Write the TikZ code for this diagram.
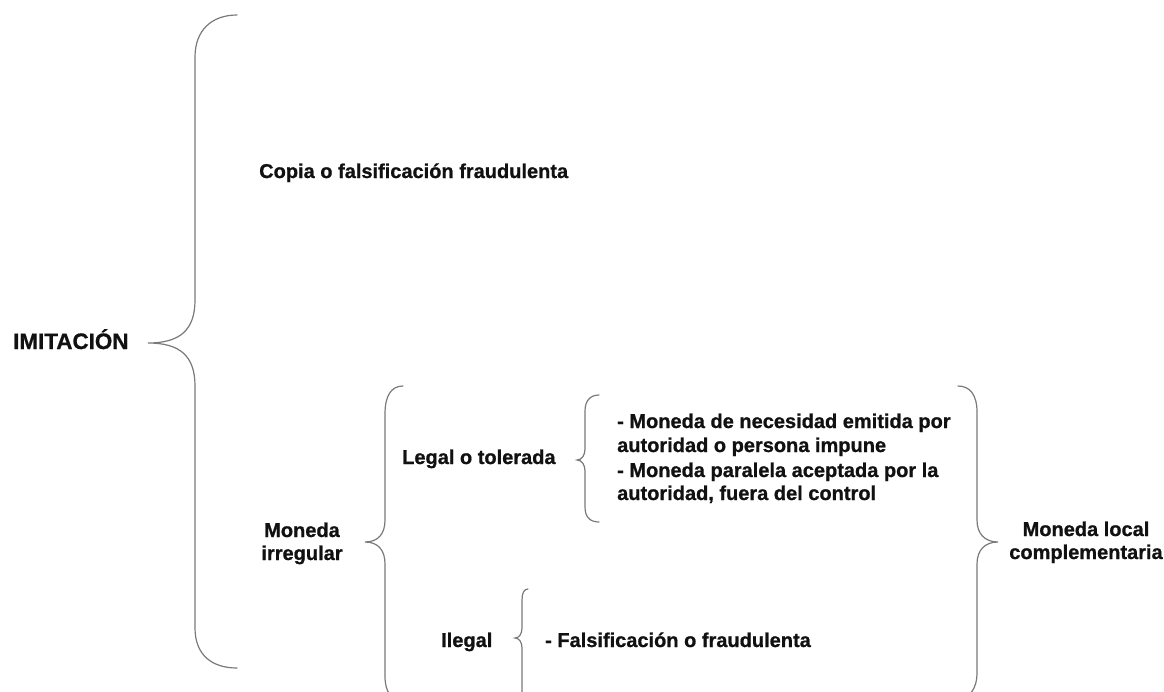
\documentclass[tikz,border=0pt]{standalone}
\usepackage{fontspec}
\setmainfont{Liberation Sans}[BoldFeatures={FakeBold=0.8}]
\definecolor{bracegray}{HTML}{7A7A7A}
\definecolor{txt}{HTML}{111111}
\begin{document}
\begin{tikzpicture}[x=1pt,y=-1pt,
  lbl/.style={font=\bfseries\fontsize{20}{23}\selectfont, inner sep=0pt, anchor=base west, text=txt},
  bigl/.style={font=\bfseries\fontsize{22.4}{26}\selectfont, inner sep=0pt, anchor=base west, text=txt},
  brace/.style={draw=bracegray, line width=1.2pt, line cap=round}]
\useasboundingbox[fill=white] (0,0) rectangle (1164,691);

% big brace
\draw[brace] (237,15) .. controls (212,15) and (195,30) .. (195,57) -- (195,300)
  .. controls (195,330) and (180,343) .. (148,343)
  .. controls (180,343) and (195,356) .. (195,386) -- (195,628)
  .. controls (195,655) and (212,668) .. (237,668);

% moneda irregular brace
\draw[brace] (403,386) .. controls (391,386) and (385,396) .. (385,414) -- (385,520)
  .. controls (385,534) and (378,542) .. (365,542)
  .. controls (378,542) and (385,550) .. (385,564) -- (385,676)
  .. controls (385,692) and (391,700) .. (403,700);

% legal brace
\draw[brace] (599,395) .. controls (590,395) and (585,401) .. (585,411) -- (585,449)
  .. controls (585,455) and (582,460) .. (577,460)
  .. controls (582,460) and (585,465) .. (585,471) -- (585,507)
  .. controls (585,517) and (590,522) .. (599,522);

% ilegal brace
\draw[brace] (528,589) .. controls (524,589) and (522,593) .. (522,600) -- (522,628)
  .. controls (522,634) and (519,638) .. (515,638)
  .. controls (519,638) and (522,642) .. (522,648) -- (522,694)
  .. controls (522,701) and (524,705) .. (528,705);

% right brace
\draw[brace] (958,386) .. controls (970,386) and (977,395) .. (977,412) -- (977,520)
  .. controls (977,534) and (985,542) .. (998,542)
  .. controls (985,542) and (977,550) .. (977,564) -- (977,672)
  .. controls (977,689) and (970,698) .. (958,698);

\node[bigl] (imit) at (13,349) {IMITACIÓN};
\node[lbl] (copia) at (259,178) {Copia o falsificación fraudulenta};
\node[lbl, anchor=base] (mi1) at (302,537) {Moneda};
\node[lbl, anchor=base] (mi2) at (302,560) {irregular};
\node[lbl] (legal) at (402,464) {Legal o tolerada};
\node[lbl] (b1) at (617,428) {- Moneda de necesidad emitida por};
\node[lbl] (b2) at (617,452) {autoridad o persona impune};
\node[lbl] (b3) at (617,477) {- Moneda paralela aceptada por la};
\node[lbl] (b4) at (617,500) {autoridad, fuera del control};
\node[lbl] (ilegal) at (441,647) {Ilegal};
\node[lbl] (fals) at (545,647) {- Falsificación o fraudulenta};
\node[lbl, anchor=base] (ml1) at (1086,536) {Moneda local};
\node[lbl, anchor=base] (ml2) at (1086,559) {complementaria};
\end{tikzpicture}
\end{document}
